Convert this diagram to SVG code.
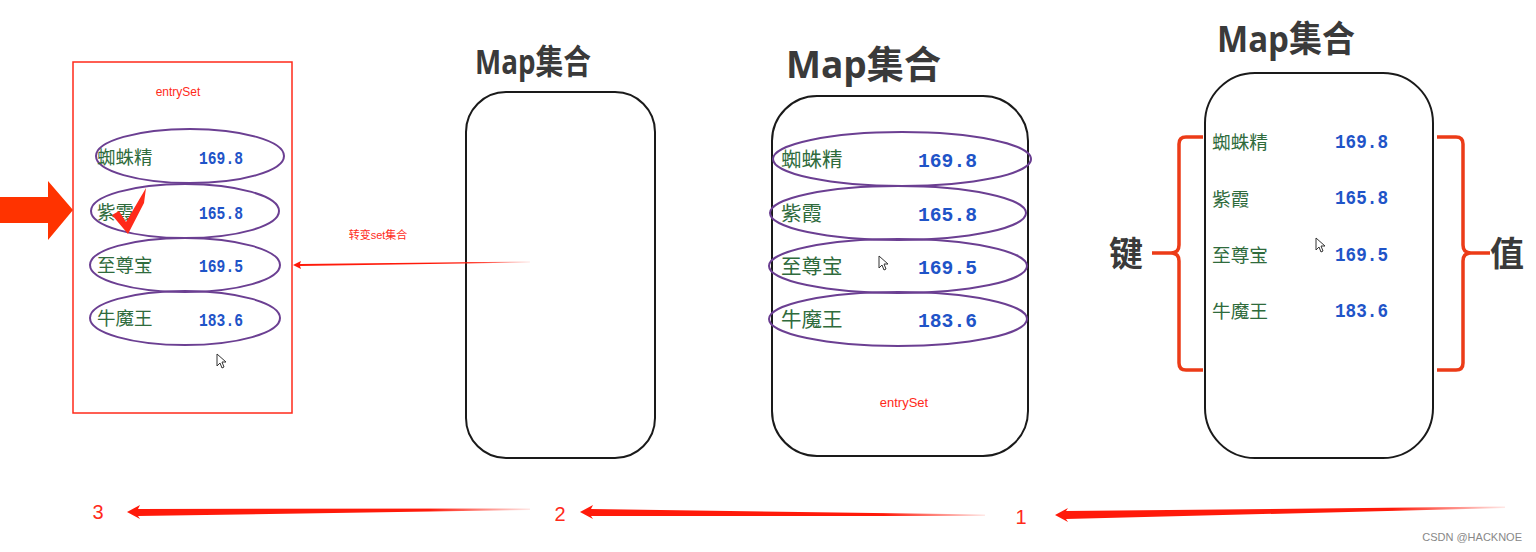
<svg xmlns="http://www.w3.org/2000/svg" width="1536" height="552" viewBox="0 0 1536 552">
<defs>
<style>
.title{font-family:"Open Sans","Noto Sans CJK SC",sans-serif;font-weight:700;fill:#3a3a3a}
.key{font-family:"Noto Sans CJK SC",sans-serif;fill:#2f6b3c}
.val{font-family:"Liberation Mono","DejaVu Sans Mono",monospace;font-weight:700;fill:#1f54c8}
.p1 .key{font-size:18.5px}
.p1 .val{font-size:18px}
.p3 .key{font-size:20.5px}
.p3 .val{font-size:21px}
.p4 .key{font-size:18.7px}
.p4 .val{font-size:19.5px}
.ell{fill:none;stroke:#6b3f92;stroke-width:2}
.box{fill:#fff;stroke:#1a1a1a;stroke-width:2}
.red{font-family:"Liberation Sans","Noto Sans CJK SC",sans-serif;fill:#ff2a1a}
.brace{fill:none;stroke:#ec3b17;stroke-width:3.5;stroke-linejoin:round}
.big{font-family:"Noto Sans CJK SC",sans-serif;font-weight:700;font-size:34px;fill:#3a3a3a}
.cur{fill:#fff;stroke:#333;stroke-width:1}
</style>
<linearGradient id="fadeR" x1="0" y1="0" x2="1" y2="0">
<stop offset="0" stop-color="#ff1a0a"/>
<stop offset="0.75" stop-color="#ff1a0a"/>
<stop offset="1" stop-color="#ff1a0a" stop-opacity="0.1"/>
</linearGradient>
</defs>
<rect width="1536" height="552" fill="#fff"/>

<g id="big-arrow">
<polygon points="0,197 48,197 48,181 73,210 48,240 48,223 0,223" fill="#ff3300"/>
</g>

<g id="entryset-panel" class="p1">
<rect x="73" y="62" width="219" height="351" fill="none" stroke="#ff2a1a" stroke-width="1.5"/>
<text class="red" x="178" y="96" font-size="12" text-anchor="middle">entrySet</text>
<ellipse class="ell" cx="190" cy="156" rx="94" ry="27"/>
<ellipse class="ell" cx="185" cy="211" rx="94" ry="27"/>
<ellipse class="ell" cx="185" cy="265" rx="95" ry="27"/>
<ellipse class="ell" cx="185" cy="318" rx="95" ry="27"/>
<text class="key" x="97" y="164">蜘蛛精</text>
<text class="val" x="199" y="164" textLength="44" lengthAdjust="spacingAndGlyphs">169.8</text>
<text class="key" x="97" y="219">紫霞</text>
<text class="val" x="199" y="219" textLength="44" lengthAdjust="spacingAndGlyphs">165.8</text>
<text class="key" x="97" y="272">至尊宝</text>
<text class="val" x="199" y="272" textLength="44" lengthAdjust="spacingAndGlyphs">169.5</text>
<text class="key" x="97" y="325">牛魔王</text>
<text class="val" x="199" y="326" textLength="44" lengthAdjust="spacingAndGlyphs">183.6</text>
<polygon points="112,215 119,211 126,222 146,188 144,203 128,234" fill="#ff2a1a"/>
<polygon class="cur" transform="translate(217,354)" points="0,0 0,12 3,9 5,14 7,13 5,8 9,8"/>
</g>

<g id="map-empty">
<text class="title" x="475" y="74" font-size="34" textLength="116" lengthAdjust="spacingAndGlyphs">Map集合</text>
<rect class="box" x="466" y="92" width="189" height="366" rx="40"/>
</g>

<g id="map-entry" class="p3">
<text class="title" x="786" y="78" font-size="38" textLength="155" lengthAdjust="spacingAndGlyphs">Map集合</text>
<rect class="box" x="772" y="96" width="256" height="360" rx="45"/>
<ellipse class="ell" cx="902" cy="159" rx="129" ry="27"/>
<ellipse class="ell" cx="898" cy="213" rx="128" ry="27"/>
<ellipse class="ell" cx="898" cy="266" rx="129" ry="27"/>
<ellipse class="ell" cx="898" cy="319" rx="129" ry="27"/>
<text class="key" x="781" y="167">蜘蛛精</text>
<text class="val" x="918" y="167" textLength="59" lengthAdjust="spacingAndGlyphs">169.8</text>
<text class="key" x="781" y="221">紫霞</text>
<text class="val" x="918" y="221" textLength="59" lengthAdjust="spacingAndGlyphs">165.8</text>
<text class="key" x="781" y="274">至尊宝</text>
<text class="val" x="918" y="274" textLength="59" lengthAdjust="spacingAndGlyphs">169.5</text>
<text class="key" x="781" y="327">牛魔王</text>
<text class="val" x="918" y="327" textLength="59" lengthAdjust="spacingAndGlyphs">183.6</text>
<text class="red" x="904" y="407" font-size="13" text-anchor="middle">entrySet</text>
<polygon class="cur" transform="translate(879,256)" points="0,0 0,12 3,9 5,14 7,13 5,8 9,8"/>
</g>

<g id="map-kv" class="p4">
<text class="title" x="1217" y="52" font-size="36" textLength="138" lengthAdjust="spacingAndGlyphs">Map集合</text>
<rect class="box" x="1205" y="73" width="228" height="385" rx="50"/>
<text class="key" x="1212" y="149">蜘蛛精</text>
<text class="val" x="1335" y="148" textLength="53" lengthAdjust="spacingAndGlyphs">169.8</text>
<text class="key" x="1212" y="206">紫霞</text>
<text class="val" x="1335" y="204" textLength="53" lengthAdjust="spacingAndGlyphs">165.8</text>
<text class="key" x="1212" y="262">至尊宝</text>
<text class="val" x="1335" y="261" textLength="53" lengthAdjust="spacingAndGlyphs">169.5</text>
<text class="key" x="1212" y="318">牛魔王</text>
<text class="val" x="1335" y="317" textLength="53" lengthAdjust="spacingAndGlyphs">183.6</text>
<polygon class="cur" transform="translate(1316,238)" points="0,0 0,12 3,9 5,14 7,13 5,8 9,8"/>
</g>

<g id="key-brace">
<path class="brace" d="M1203,137 H1186 Q1179,137 1179,144 V245 Q1179,253 1171,253 H1152 M1171,253 Q1179,253 1179,261 V363 Q1179,370 1186,370 H1203"/>
<text class="big" x="1109" y="266">键</text>
</g>

<g id="value-brace">
<path class="brace" d="M1437,137 H1456 Q1463,137 1463,144 V245 Q1463,253 1471,253 H1490 M1471,253 Q1463,253 1463,261 V363 Q1463,370 1456,370 H1437"/>
<text class="big" x="1490" y="266">值</text>
</g>

<g id="connectors">
<polygon points="293,265 301,261 300,264 530,261.5 530,262.5 300,266 301,269" fill="url(#fadeR)"/>
<polygon points="127,512 140,505 138,509 530,508.5 530,510 138,516 140,519" fill="url(#fadeR)"/>
<polygon points="580,512 593,505 591,509 985,514.5 985,516 591,516 593,519" fill="url(#fadeR)"/>
<polygon points="1055,515 1068,508 1066,511 1505,506.5 1505,508 1066,519 1068,522" fill="url(#fadeR)"/>
</g>

<g id="labels">
<text class="red" x="378" y="239" font-size="11" text-anchor="middle">转变set集合</text>
<text class="red" x="98" y="519" font-size="20" text-anchor="middle">3</text>
<text class="red" x="560" y="521" font-size="20" text-anchor="middle">2</text>
<text class="red" x="1021" y="524" font-size="20" text-anchor="middle">1</text>
<text x="1522" y="541" font-family="Liberation Sans, sans-serif" font-size="11" fill="#888" text-anchor="end">CSDN @HACKNOE</text>
</g>
</svg>
